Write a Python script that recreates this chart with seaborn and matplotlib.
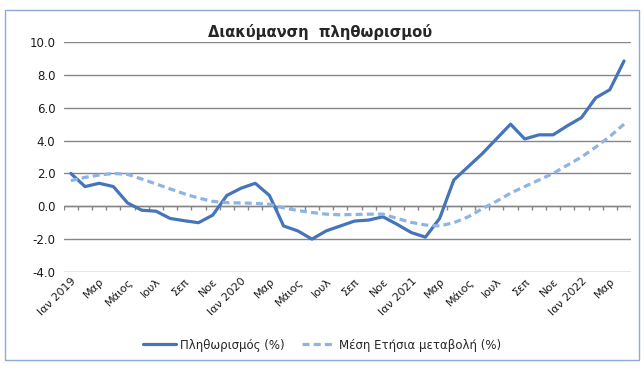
import numpy as np
import pandas as pd
import seaborn as sns
import matplotlib.pyplot as plt
from matplotlib.ticker import FormatStrFormatter
from matplotlib.patches import Rectangle

# ----------------------
# Data (Jan 2019 - Apr 2022, monthly)
# ----------------------
inflation = [2.0, 1.2, 1.4, 1.2, 0.2, -0.24, -0.3, -0.74, -0.88, -1.0, -0.54, 0.66,
             1.1, 1.4, 0.66, -1.2, -1.5, -2.0, -1.5, -1.2, -0.9, -0.84, -0.64, -1.1,
             -1.6, -1.88, -0.74, 1.6, 2.4, 3.2, 4.1, 5.0, 4.1, 4.35, 4.35, 4.9,
             5.4, 6.6, 7.1, 8.85]
avg_annual = [1.56, 1.76, 1.9, 2.0, 1.94, 1.66, 1.36, 1.06, 0.76, 0.5, 0.3, 0.22,
              0.2, 0.18, 0.12, -0.1, -0.26, -0.38, -0.48, -0.52, -0.5, -0.48, -0.48, -0.74,
              -0.98, -1.14, -1.2, -1.0, -0.65, -0.15, 0.3, 0.8, 1.2, 1.6, 2.0, 2.5,
              3.0, 3.6, 4.25, 5.0]
tick_labels = ["Ιαν 2019", "Μαρ", "Μάιος", "Ιουλ", "Σεπ", "Νοε",
               "Ιαν 2020", "Μαρ", "Μάιος", "Ιουλ", "Σεπ", "Νοε",
               "Ιαν 2021", "Μαρ", "Μάιος", "Ιουλ", "Σεπ", "Νοε",
               "Ιαν 2022", "Μαρ"]

months = np.arange(len(inflation))
df = pd.DataFrame({"month": months, "inflation": inflation, "avg": avg_annual})

# ----------------------
# Plot
# ----------------------
sns.set_style("white")
plt.rcParams["font.family"] = ["DejaVu Sans"]
plt.rcParams["axes.unicode_minus"] = False

fig = plt.figure(figsize=(6.44, 3.69), dpi=100)
ax = fig.add_axes([0.099, 0.263, 0.881, 0.623])

sns.lineplot(x="month", y="inflation", data=df, ax=ax, color="#4575B8", lw=2.3,
             label="Πληθωρισμός (%)")
sns.lineplot(x="month", y="avg", data=df, ax=ax, color="#8EB4E3", lw=2.3,
             label="Μέση Ετήσια μεταβολή (%)")
ax.lines[1].set_dashes((2.2, 1.3))

ax.set_xlim(-0.5, len(months) - 0.5)
ax.set_ylim(-4, 10)
ax.set_yticks(np.arange(-4, 11, 2))
ax.yaxis.set_major_formatter(FormatStrFormatter("%.1f"))
ax.yaxis.grid(True, color="#868686", lw=1)
ax.set_axisbelow(True)
for s in ax.spines.values():
    s.set_visible(False)

# category axis at zero with tick marks at boundaries
ax.axhline(0, color="#868686", lw=1, zorder=1)
ax.vlines(np.arange(-0.5, len(months)), -0.22, 0, color="#868686", lw=1, zorder=1)

ax.set_xticks(months[::2])
ax.set_xticklabels(tick_labels, rotation=45, ha="right", rotation_mode="anchor")
ax.tick_params(axis="x", length=0, labelsize=8, pad=3, colors="#1a1a1a")
ax.tick_params(axis="y", length=0, labelsize=8.5, pad=6, colors="#1a1a1a")
ax.set_xlabel("")
ax.set_ylabel("")

ax.legend(loc="center", bbox_to_anchor=(0.5, 0.065), bbox_transform=fig.transFigure,
          ncol=2, frameon=False, fontsize=8.5, handlelength=2.8, columnspacing=1.5,
          handletextpad=0.3)
ax.get_legend().get_lines()[1].set_dashes((2.2, 1.3))

fig.text(0.497, 0.912, "Διακύμανση  πληθωρισμού", ha="center", va="center",
         fontsize=10.6, fontweight="bold")

fig.patches.append(Rectangle((0.008, 0.025), 0.985, 0.948, transform=fig.transFigure,
                             fill=False, edgecolor="#8EAAD8", lw=1))

fig.savefig("out.png", dpi=100)
